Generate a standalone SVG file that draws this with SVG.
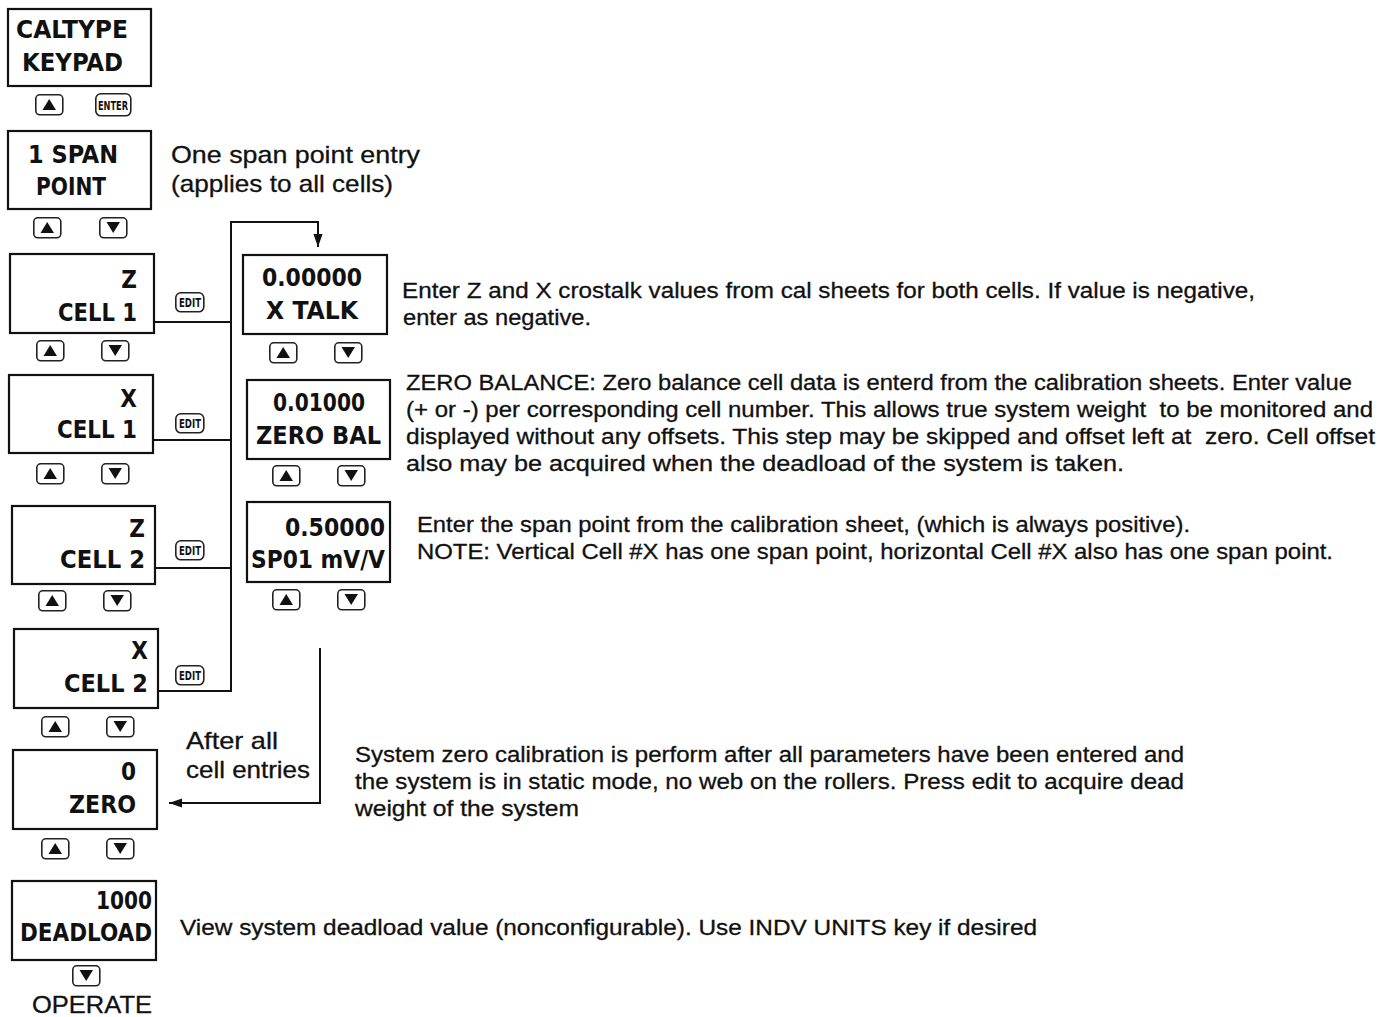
<svg xmlns="http://www.w3.org/2000/svg" xmlns:xlink="http://www.w3.org/1999/xlink" width="1390" height="1017" viewBox="0 0 1390 1017">
<style>
.box{fill:#fff;stroke:#111;stroke-width:2.2}
.lcd{font-family:"DejaVu Sans",sans-serif;font-weight:bold;font-stretch:condensed;font-size:24px;fill:#111}
.txt{font-family:"Liberation Sans",Arial,sans-serif;font-size:22px;fill:#111;stroke:#111;stroke-width:0.3;white-space:pre}
.big{font-family:"Liberation Sans",Arial,sans-serif;font-size:24px;fill:#111;stroke:#111;stroke-width:0.3}
.btn{fill:#fff;stroke:#222;stroke-width:1.6}
.tri{fill:#111}
.key{font-family:"DejaVu Sans",sans-serif;font-weight:bold;font-size:12px;fill:#111}
.wire{fill:none;stroke:#111;stroke-width:2}
</style>
<defs>
<g id="up"><rect class="btn" x="0.8" y="0.8" width="27" height="20" rx="4"/><polygon class="tri" points="7.5,16 21,16 14.2,5"/></g>
<g id="dn"><rect class="btn" x="0.8" y="0.8" width="27" height="20" rx="4"/><polygon class="tri" points="7.5,5 21,5 14.2,16"/></g>
<g id="edit"><rect class="btn" x="0.8" y="0.8" width="28" height="19" rx="5"/><text class="key" x="15" y="15" text-anchor="middle" textLength="22" lengthAdjust="spacingAndGlyphs">EDIT</text></g>
<marker id="ah" viewBox="0 0 10 10" refX="10" refY="5" markerWidth="13" markerHeight="13" orient="auto" markerUnits="userSpaceOnUse"><path d="M0,1.5 L10,5 L0,8.5 Z" fill="#111"/></marker>
</defs>

<g id="connectors">
<polyline class="wire" points="154,322 231,322"/>
<polyline class="wire" points="153,440 231,440"/>
<polyline class="wire" points="155,568 231,568"/>
<polyline class="wire" points="158,691 231,691 231,222 318,222 318,247" marker-end="url(#ah)"/>
<polyline class="wire" points="320,648 320,803 169,803" marker-end="url(#ah)"/>
</g>

<g id="caltype">
<rect class="box" x="8" y="9" width="143" height="77"/>
<text class="lcd" x="16" y="38" textLength="112" lengthAdjust="spacingAndGlyphs">CALTYPE</text>
<text class="lcd" x="22" y="71" textLength="101" lengthAdjust="spacingAndGlyphs">KEYPAD</text>
<use href="#up" x="35" y="94"/>
<g><rect class="btn" x="95.8" y="93.8" width="35" height="22" rx="5"/><text class="key" x="113" y="110" text-anchor="middle" textLength="30" lengthAdjust="spacingAndGlyphs">ENTER</text></g>
</g>

<g id="spanpoint">
<rect class="box" x="8" y="131" width="143" height="78"/>
<text class="lcd" x="28" y="163" textLength="90" lengthAdjust="spacingAndGlyphs">1 SPAN</text>
<text class="lcd" x="36" y="195" textLength="70" lengthAdjust="spacingAndGlyphs">POINT</text>
<use href="#up" x="33" y="217"/>
<use href="#dn" x="99" y="217"/>
<text class="big" x="171" y="163" textLength="249" lengthAdjust="spacingAndGlyphs">One span point entry</text>
<text class="big" x="171" y="192" textLength="222" lengthAdjust="spacingAndGlyphs">(applies to all cells)</text>
</g>

<g id="zcell1">
<rect class="box" x="10" y="254" width="144" height="79"/>
<text class="lcd" x="137" y="288" text-anchor="end">Z</text>
<text class="lcd" x="58" y="321" textLength="79" lengthAdjust="spacingAndGlyphs">CELL 1</text>
<use href="#up" x="36" y="340"/>
<use href="#dn" x="101" y="340"/>
<use href="#edit" x="175" y="292"/>
</g>

<g id="xcell1">
<rect class="box" x="9" y="375" width="144" height="78"/>
<text class="lcd" x="137" y="407" text-anchor="end">X</text>
<text class="lcd" x="57" y="438" textLength="80" lengthAdjust="spacingAndGlyphs">CELL 1</text>
<use href="#up" x="36" y="463"/>
<use href="#dn" x="101" y="463"/>
<use href="#edit" x="175" y="413"/>
</g>

<g id="zcell2">
<rect class="box" x="12" y="506" width="143" height="78"/>
<text class="lcd" x="145" y="537" text-anchor="end">Z</text>
<text class="lcd" x="60" y="568" textLength="85" lengthAdjust="spacingAndGlyphs">CELL 2</text>
<use href="#up" x="38" y="590"/>
<use href="#dn" x="103" y="590"/>
<use href="#edit" x="175" y="540"/>
</g>

<g id="xcell2">
<rect class="box" x="14" y="629" width="144" height="79"/>
<text class="lcd" x="148" y="659" text-anchor="end">X</text>
<text class="lcd" x="64" y="692" textLength="84" lengthAdjust="spacingAndGlyphs">CELL 2</text>
<use href="#up" x="41" y="716"/>
<use href="#dn" x="106" y="716"/>
<use href="#edit" x="175" y="665"/>
</g>

<g id="xtalk">
<rect class="box" x="243" y="255" width="144" height="79"/>
<text class="lcd" x="262" y="286" textLength="100" lengthAdjust="spacingAndGlyphs">0.00000</text>
<text class="lcd" x="266" y="319" textLength="92" lengthAdjust="spacingAndGlyphs">X TALK</text>
<use href="#up" x="269" y="342"/>
<use href="#dn" x="334" y="342"/>
<text class="txt" x="402" y="298" textLength="853" lengthAdjust="spacingAndGlyphs">Enter Z and X crostalk values from cal sheets for both cells. If value is negative,</text>
<text class="txt" x="403" y="325" textLength="188" lengthAdjust="spacingAndGlyphs">enter as negative.</text>
</g>

<g id="zerobal">
<rect class="box" x="247" y="380" width="143" height="79"/>
<text class="lcd" x="273" y="411" textLength="92" lengthAdjust="spacingAndGlyphs">0.01000</text>
<text class="lcd" x="256" y="444" textLength="125" lengthAdjust="spacingAndGlyphs">ZERO BAL</text>
<use href="#up" x="272" y="465"/>
<use href="#dn" x="337" y="465"/>
<text class="txt" x="406" y="390" textLength="946" lengthAdjust="spacingAndGlyphs">ZERO BALANCE: Zero balance cell data is enterd from the calibration sheets. Enter value</text>
<text class="txt" x="406" y="417" textLength="967" lengthAdjust="spacingAndGlyphs">(+ or -) per corresponding cell number. This allows true system weight  to be monitored and</text>
<text class="txt" x="406" y="444" textLength="969" lengthAdjust="spacingAndGlyphs">displayed without any offsets. This step may be skipped and offset left at  zero. Cell offset</text>
<text class="txt" x="406" y="471" textLength="718" lengthAdjust="spacingAndGlyphs">also may be acquired when the deadload of the system is taken.</text>
</g>

<g id="sp01">
<rect class="box" x="247" y="502" width="143" height="80"/>
<text class="lcd" x="285" y="536" textLength="100" lengthAdjust="spacingAndGlyphs">0.50000</text>
<text class="lcd" x="251" y="568" textLength="134" lengthAdjust="spacingAndGlyphs">SP01 mV/V</text>
<use href="#up" x="272" y="589"/>
<use href="#dn" x="337" y="589"/>
<text class="txt" x="417" y="532" textLength="773" lengthAdjust="spacingAndGlyphs">Enter the span point from the calibration sheet, (which is always positive).</text>
<text class="txt" x="417" y="559" textLength="916" lengthAdjust="spacingAndGlyphs">NOTE: Vertical Cell #X has one span point, horizontal Cell #X also has one span point.</text>
</g>

<g id="zero">
<rect class="box" x="13" y="750" width="144" height="79"/>
<text class="lcd" x="136" y="780" text-anchor="end">0</text>
<text class="lcd" x="69" y="813" textLength="67" lengthAdjust="spacingAndGlyphs">ZERO</text>
<use href="#up" x="41" y="838"/>
<use href="#dn" x="106" y="838"/>
<text class="big" x="186" y="749" textLength="92" lengthAdjust="spacingAndGlyphs">After all</text>
<text class="big" x="186" y="778" textLength="124" lengthAdjust="spacingAndGlyphs">cell entries</text>
<text class="txt" x="355" y="762" textLength="829" lengthAdjust="spacingAndGlyphs">System zero calibration is perform after all parameters have been entered and</text>
<text class="txt" x="355" y="789" textLength="829" lengthAdjust="spacingAndGlyphs">the system is in static mode, no web on the rollers. Press edit to acquire dead</text>
<text class="txt" x="355" y="816" textLength="224" lengthAdjust="spacingAndGlyphs">weight of the system</text>
</g>

<g id="deadload">
<rect class="box" x="12" y="881" width="144" height="79"/>
<text class="lcd" x="96" y="909" textLength="56" lengthAdjust="spacingAndGlyphs">1000</text>
<text class="lcd" x="20" y="941" textLength="132" lengthAdjust="spacingAndGlyphs">DEADLOAD</text>
<use href="#dn" x="72" y="965"/>
<text class="big" x="32" y="1013" textLength="120" lengthAdjust="spacingAndGlyphs">OPERATE</text>
<text class="txt" x="180" y="935" textLength="857" lengthAdjust="spacingAndGlyphs">View system deadload value (nonconfigurable). Use INDV UNITS key if desired</text>
</g>
</svg>
